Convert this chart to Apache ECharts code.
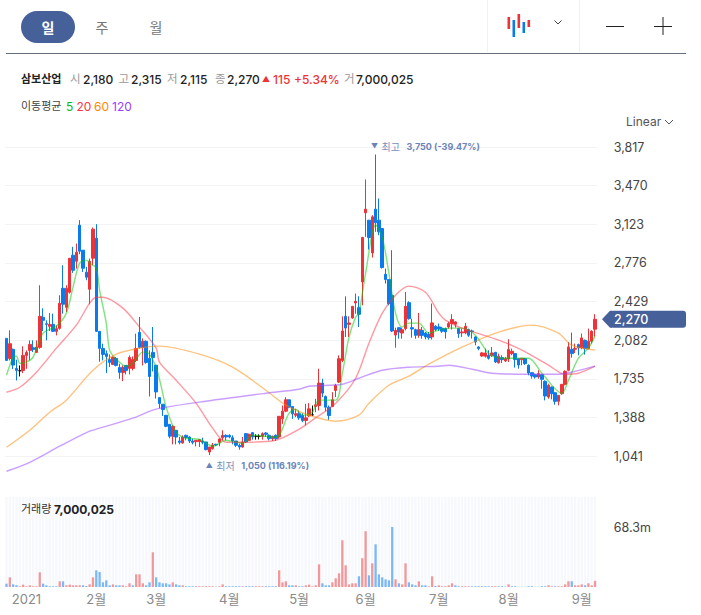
<!DOCTYPE html>
<html><head><meta charset="utf-8">
<style>html,body{margin:0;padding:0;background:#fff}#c{width:701px;height:615px}</style>
<script src="https://cdn.jsdelivr.net/npm/echarts@6/dist/echarts.min.js"></script>
</head><body><div id="c"></div>
<script>
// [open, close, low, high]
const ohlc = [
[2098,1900,1900,2098],[1918,2050,1900,2170],[2000,1858,1822,2005],[1828,1810,1720,1906],[1807,1807,1756,1855],
[1810,1945,1786,2026],[1945,1972,1825,1990],[1990,2044,1900,2080],[2014,1999,1975,2080],[1972,2020,1966,2080],
[2017,2296,2005,2575],[2287,2260,2164,2368],[2230,2224,2080,2260],[2206,2224,2164,2326],[2224,2161,2155,2320],
[2161,2185,2125,2215],[2188,2413,2176,2485],[2548,2404,2320,2755],[2377,2548,2335,2575],[2512,2818,2500,2818],
[2845,2710,2686,2920],[2791,2872,2725,2950],[3115,2881,2854,3160],[2890,2728,2695,2890],[2692,2647,2620,2740],
[2539,2791,2404,2815],[2818,3079,2755,3094],[2998,2161,2155,3124],[2161,2008,1888,2161],[2008,1954,1900,2050],
[1960,1936,1786,1990],[1909,1882,1840,1954],[1864,1927,1858,1936],[1918,1855,1846,1930],[1837,1792,1735,1870],
[1792,1837,1714,1855],[1855,1810,1774,1855],[1828,1927,1774,1945],[1828,1909,1810,1936],[1900,2008,1885,2140],
[2152,2017,2005,2290],[2017,2071,1855,2098],[2071,1882,1870,2080],[1918,1756,1576,1990],[1972,1927,1801,2200],
[1857,1617,1557,1857],[1566,1512,1470,1566],[1506,1458,1401,1506],[1407,1308,1300,1407],[1326,1218,1200,1326],
[1218,1308,1146,1317],[1272,1212,1146,1272],[1176,1164,1146,1212],[1158,1212,1152,1227],[1227,1206,1182,1233],
[1212,1176,1158,1218],[1176,1164,1146,1197],[1170,1182,1128,1182],[1170,1188,1122,1188],[1176,1164,1146,1206],
[1167,1098,1092,1167],[1077,1122,1050,1122],[1107,1140,1098,1158],[1146,1140,1130,1152],[1164,1194,1128,1200],
[1206,1227,1182,1272],[1227,1212,1182,1236],[1227,1212,1200,1236],[1206,1176,1146,1227],[1176,1137,1122,1176],
[1137,1122,1098,1152],[1122,1167,1116,1212],[1242,1167,1158,1248],[1182,1236,1178,1242],[1251,1212,1188,1257],
[1218,1218,1188,1236],[1218,1218,1190,1236],[1218,1242,1188,1254],[1248,1236,1212,1257],[1227,1197,1182,1236],
[1197,1218,1176,1224],[1227,1197,1176,1236],[1212,1398,1197,1398],[1375,1444,1330,1495],[1444,1546,1435,1570],
[1546,1480,1470,1546],[1486,1420,1375,1486],[1408,1420,1390,1465],[1420,1384,1366,1450],[1405,1360,1345,1426],
[1360,1384,1315,1510],[1402,1465,1390,1516],[1411,1411,1400,1495],[1486,1501,1435,1555],[1495,1696,1450,1825],
[1696,1606,1570,1735],[1576,1480,1444,1585],[1480,1405,1366,1495],[1486,1546,1480,1615],[1630,1675,1570,1690],
[1705,1915,1696,1945],[1900,2164,1885,2296],[2296,2191,2110,2476],[2224,2236,2110,2296],[2281,2386,2275,2386],
[2416,2431,2320,2500],[2374,2314,2200,2476],[2605,3004,2395,3010],[3226,3259,3010,3526],[3160,3004,2896,3160],
[2866,3190,2824,3205],[3259,3136,3055,3750],[3160,3055,3025,3355],[3085,2734,2725,3085],[2674,2626,2590,2725],
[2626,2410,2395,2626],[2485,2164,2155,2890],[2128,2170,2014,2194],[2194,2155,2095,2200],[2146,2176,2095,2194],
[2185,2386,2170,2515],[2419,2275,2266,2431],[2194,2182,2104,2275],[2176,2125,2095,2185],[2125,2176,2104,2326],
[2170,2125,2095,2200],[2146,2110,2089,2155],[2134,2104,2086,2155],[2111,2237,2087,2411],[2207,2177,2165,2216],
[2201,2183,2165,2231],[2189,2162,2147,2201],[2186,2156,2096,2195],[2201,2231,2186,2246],[2231,2267,2177,2315],
[2225,2246,2195,2252],[2186,2141,2102,2192],[2147,2156,2111,2186],[2147,2207,2135,2237],[2177,2126,2111,2186],
[2165,2159,2096,2177],[2111,2066,2036,2117],[2021,2006,1991,2027],[1940,1967,1931,1976],[1937,1967,1925,2006],
[1946,1919,1907,1991],[1943,1967,1931,2021],[1973,1886,1877,1976],[1880,1937,1871,1961],[1925,1907,1877,1946],
[1895,1916,1886,1931],[1913,1997,1886,2090],[1961,1982,1946,2006],[1961,1907,1835,1967],[1916,1859,1826,1916],
[1907,1919,1856,1919],[1916,1871,1859,1922],[1856,1787,1766,1865],[1790,1760,1736,1796],[1772,1751,1736,1781],
[1751,1781,1736,1811],[1772,1730,1646,1772],[1712,1580,1541,1721],[1571,1676,1556,1691],[1661,1601,1550,1665],
[1610,1532,1502,1610],[1532,1586,1496,1586],[1601,1685,1592,1685],[1685,1802,1676,1811],[1811,2021,1802,2066],
[2000,1961,1925,2150],[2000,2006,1967,2051],[2042,2012,1946,2051],[2012,2102,2000,2141],[2081,2006,1952,2087],
[2006,2072,2000,2186],[2072,2162,2051,2171],[2180,2270,2115,2315]
];
// volume in millions
const volume = [
3.8,11,3,1.9,.8,2.7,.8,1.9,.8,.8,16.7,3.8,1.9,.8,.8,.8,6.5,6.5,1.9,2.7,
1.9,1.9,1.9,1.9,1.1,3,11,19,17.1,5.3,7.6,1.9,3,1.9,1.9,1.9,.8,4.2,1.9,14.4,
14.4,4.2,1.9,5.3,39.5,11,5.3,4.2,4.2,3,5.3,3,1.9,1.9,.8,.8,.8,.8,.8,.8,
.8,.8,.8,.4,.8,3,.8,.8,.8,.8,.8,.8,.8,.8,.8,.8,.8,.8,.8,.8,
.8,.8,19,5.3,6.5,1.9,1.9,1.9,.8,.8,1.9,2.7,.8,1.9,25.8,4.2,1.9,1.9,5.3,9.9,
15.6,53.2,24.7,3,4.2,4.2,12.2,32.7,63.5,13.3,27,48.6,14.4,11,8.7,7.6,68.3,8.7,4.2,3,
27,5.3,3,1.9,6.5,1.9,1.9,.8,12.2,1.1,1.9,.8,.8,1.9,4.2,1.9,.8,.8,.8,.8,
.8,.8,.8,.8,.8,.8,.8,.8,.8,.8,.4,3,.8,.8,.2,.2,.2,.8,.8,.2,
.2,.8,.8,1.9,.8,.8,.8,.8,3,6.5,6.5,1.9,1.9,3,1.9,4.2,1.9,7
];
const volumeDir = ('brbbrrrrrr'+'rbbbbbrbrr'+'rrrbbrrbbb'+'bbrbbrrrbr'+'rrbbrbbbbb'+
 'rbbrbbbrrr'+'rrrbrrbbbb'+'brbbbrrrbb'+'bbrrrbbrbb'+'rrrrrbbbrr'+
 'rrrrrrbrrb'+'rbbbbbbrbr'+'rbbbrbbrrb'+'rrrrrbbrrr'+'bbbbbbrrbb'+
 'brbbbbbbbb'+'bbbrrbrrrr'+'brrrbrrr').split('');
const ma5 = [[0,1767],[2,1929],[3,1938],[4,1875],[6,1884],[8,1929],[11,2145],[15,2208],[18,2325],[20,2558],[22,2774],[24,2801],[25,2774],[27,2729],[28,2531],[30,2235],[31,1992],[33,1911],[36,1848],[38,1875],[41,1974],[42,1974],[45,1839],[48,1480],[51,1255],[54,1201],[58,1192],[62,1129],[66,1183],[71,1156],[74,1228],[81,1210],[85,1426],[87,1462],[89,1408],[92,1435],[94,1543],[99,1543],[101,1785],[103,2109],[105,2289],[106,2325],[108,2684],[111,3116],[113,3008],[115,2684],[117,2325],[119,2199],[121,2235],[124,2235],[127,2145],[130,2172],[133,2190],[137,2190],[141,2127],[145,1965],[149,1920],[157,1920],[161,1785],[167,1605],[169,1722],[172,1920],[175,2010],[177,2118]];
const ma20 = [[0,1614],[4,1659],[9,1794],[15,2010],[21,2217],[25,2415],[27,2468],[29,2468],[35,2370],[40,2199],[45,2010],[46,1884],[51,1722],[57,1516],[62,1291],[66,1165],[71,1165],[81,1183],[88,1282],[92,1363],[99,1516],[105,1740],[109,2055],[113,2325],[117,2486],[121,2567],[126,2513],[130,2325],[132,2262],[137,2190],[148,2082],[155,1992],[163,1857],[168,1776],[172,1785],[177,1848]];
const ma60 = [[0,1120],[7,1273],[13,1435],[18,1543],[26,1812],[33,1956],[40,2010],[46,2028],[58,1956],[68,1839],[78,1632],[84,1498],[91,1408],[99,1354],[106,1408],[109,1516],[115,1677],[121,1758],[127,1866],[137,2019],[148,2154],[158,2217],[166,2145],[170,2037],[177,1992]];
const ma120 = [[0,904],[7,985],[16,1129],[25,1264],[28,1291],[38,1381],[45,1462],[58,1525],[78,1605],[88,1641],[91,1668],[101,1686],[106,1740],[113,1812],[121,1839],[130,1848],[133,1857],[140,1821],[146,1785],[158,1776],[166,1776],[170,1794],[177,1848]];
const monthLabels = {6:'2021',27:'2월',45:'3월',67:'4월',88:'5월',108:'6월',130:'7월',151:'8월',173:'9월'};
const categories = ohlc.map((_,i)=>monthLabels[i]||'');
const priceTickStep = 347;
const volumeTick = 68.3;
const tabs = ['일','주','월'];
const quote = [['시','2,180'],['고','2,315'],['저','2,115'],['종','2,270']];
const FONT = 'Inter,"Noto Sans CJK KR","Noto Sans",sans-serif';
const RED='#ee3338', BLUE='#0b7bec', NAVY='#46609a';

const chart = echarts.init(document.getElementById('c'),null,{width:701,height:615,renderer:'svg'});
const T=(text,x,y,fontSize,fill,fontWeight,align)=>({type:'text',x,y,z:20,silent:true,style:{text,fontSize,fill,fontWeight:fontWeight||'normal',fontFamily:FONT,align:align||'left',verticalAlign:'middle'}});
const R=(x,y,w,h,fill,r)=>({type:'rect',z:20,silent:true,shape:{x,y,width:w,height:h,r:r||0},style:{fill}});
const P=(pts,stroke,lw)=>({type:'polyline',z:20,silent:true,shape:{points:pts},style:{stroke,fill:null,lineWidth:lw||1}});
const qx=[[70,83],[118.5,131],[167,180],[215,227]];
const gfx = [
  R(21,11,54,32,NAVY,16),
  T(tabs[0],48,27,14,'#fff','bold','center'),
  T(tabs[1],102,27,14,'#777','normal','center'),
  T(tabs[2],156,27,14,'#777','normal','center'),
  R(487,0,1,52,'#eef0f2'),R(579,0,1,52,'#eef0f2'),R(6,53,680,1,'#666f7d'),
  R(507.5,17,2.6,12,'#ee3338'),R(512.5,20,2.6,17,'#0b7bec'),R(517.5,14,2.6,14,'#ee3338'),R(522.5,22,2.6,11,'#0b7bec'),R(527.5,20,2.6,7,'#ee3338'),
  P([[554.5,20.5],[558,24],[561.5,20.5]],'#444',1),
  R(606,26,18,1,'#222'),R(654,26,18,1,'#222'),R(662.5,17,1,18,'#222'),
  T('삼보산업',21,79,11,'#222','bold'),
  ...quote.flatMap((q,i)=>[T(q[0],qx[i][0],79,11.5,'#999'),T(q[1],qx[i][1],79,12,'#222','500')]),
  T('▲',262,79,8,RED),T('115',273,79,12,RED,'500'),T('+5.34%',294,79,12,RED,'500'),
  T('거',344,79,11.5,'#999'),T('7,000,025',356,79,12,'#222','500'),
  T('이동평균',21,106,11,'#444'),T('5',66,106,12,'#12b812'),T('20',76.5,106,12,'#ff3344'),T('60',94,106,12,'#ff8800'),T('120',112,106,12,'#9640ff'),
  T('Linear',626,121,12,'#555'),P([[665,120],[669,124],[673,120]],'#555',1),
  T('거래량',21,509,11,'#333'),T('7,000,025',54,509,12,'#222','bold')
];
const lineS=(name,data,color)=>({name,type:'line',data,xAxisIndex:0,yAxisIndex:0,smooth:0.3,showSymbol:false,silent:true,connectNulls:true,lineStyle:{color,width:1.4,opacity:.5},z:3});
const extremeRich={t:{fontSize:7,color:'#6b83b8',fontFamily:FONT},k:{fontSize:10,color:'#7a8fbd',fontFamily:FONT},n:{fontSize:9,fontWeight:'bold',color:'#6b83b8',fontFamily:FONT}};
chart.setOption({
  animation:false,backgroundColor:'#fff',
  grid:[{left:4.85,width:591.85,top:108.4,height:386.25},{left:4.85,width:591.85,top:497,height:90}],
  xAxis:[
    {type:'category',gridIndex:0,data:categories,boundaryGap:true,show:false},
    {type:'category',gridIndex:1,data:categories,boundaryGap:true,axisLine:{show:false},axisTick:{show:false},
     axisLabel:{interval:0,color:'#8a8a8a',fontSize:13,fontFamily:FONT,margin:5,hideOverlap:false}}
  ],
  yAxis:[
    {type:'value',gridIndex:0,position:'right',min:priceTickStep*2,max:priceTickStep*12,interval:priceTickStep,
     axisLine:{show:false},axisTick:{show:false},
     splitLine:{showMinLine:false,showMaxLine:false,lineStyle:{color:'#f2f3f5'}},
     axisLabel:{margin:17,showMinLabel:false,showMaxLabel:false,color:'#444',fontSize:12.5,fontFamily:FONT,
       formatter:v=>v.toLocaleString('en-US')}},
    {type:'value',gridIndex:1,position:'right',min:0,max:volumeTick*1.5,interval:volumeTick/2,
     axisLine:{show:false},axisTick:{show:false},splitLine:{show:false},
     axisLabel:{margin:17,color:'#444',fontSize:12.5,fontFamily:FONT,
       formatter:v=>Math.abs(v-volumeTick)<.01?volumeTick+'m':''}}
  ],
  series:[
    {type:'candlestick',xAxisIndex:0,yAxisIndex:0,data:ohlc,barWidth:3,silent:true,
     itemStyle:{color:RED,color0:BLUE,borderColor:RED,borderColor0:BLUE,borderColorDoji:'#111',borderWidth:1},
     markPoint:{symbol:'circle',symbolSize:1,silent:true,itemStyle:{color:'transparent'},
       data:[
        {coord:[111,3750],label:{show:true,position:[-4,-7],align:'left',verticalAlign:'middle',formatter:'{t|▼} {k|최고}  {n|3,750 (-39.47%)}',rich:extremeRich}},
        {coord:[61,1050],label:{show:true,position:[-3,11],align:'left',verticalAlign:'middle',formatter:'{t|▲} {k|최저}  {n|1,050 (116.19%)}',rich:extremeRich}}
       ]}},
    lineS('MA5',ma5,'#00c800'),lineS('MA20',ma20,'#ff3344'),lineS('MA60',ma60,'#ff8800'),lineS('MA120',ma120,'#9640ff'),
    {type:'bar',xAxisIndex:1,yAxisIndex:1,barWidth:2.3,silent:true,showBackground:true,backgroundStyle:{color:'#f6f8fc'},
     data:volume.map((v,i)=>({value:v,itemStyle:{color:volumeDir[i]==='r'?'#f2979a':'#7bb8f7'}}))}
  ],
  graphic:gfx
});
// current-price tag follows the price scale
const lastClose = ohlc[ohlc.length-1][1];
const ty = chart.convertToPixel({yAxisIndex:0},lastClose);
chart.setOption({graphic:gfx.concat([
  {type:'polygon',z:20,silent:true,shape:{points:[[602,ty],[610,ty-8.5],[612,ty-8.5],[612,ty+8.5],[610,ty+8.5]]},style:{fill:NAVY}},
  R(610,ty-8.5,76,17,NAVY,3),
  T(lastClose.toLocaleString('en-US'),614,ty,12.5,'#fff','500')
])});
</script></body></html>
